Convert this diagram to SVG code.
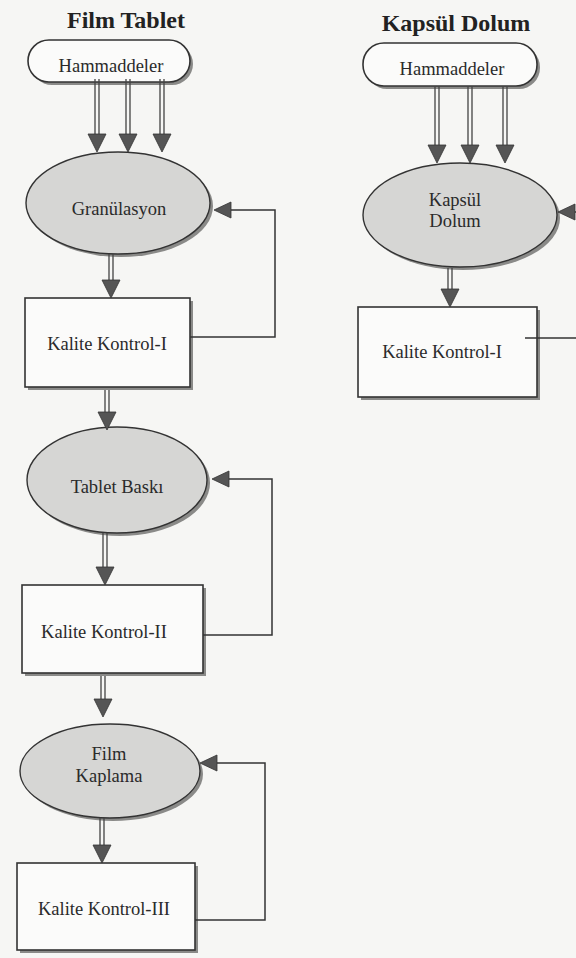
<svg xmlns="http://www.w3.org/2000/svg" xmlns:xlink="http://www.w3.org/1999/xlink" width="576" height="958" viewBox="0 0 576 958">
<style>
.title{font-family:"Liberation Serif",serif;font-weight:bold;font-size:24px;fill:#222;text-anchor:middle}
.lbl{font-family:"Liberation Serif",serif;font-size:18.5px;fill:#2a2a2a;text-anchor:middle}
.pill{fill:#fbfbfa;stroke:#333;stroke-width:1.6}
.box{fill:#fbfbfa;stroke:#333;stroke-width:1.6}
.ell{fill:#d6d6d4;stroke:#333;stroke-width:1.4}
.shadow{fill:#8a8a88}
.shaft{stroke:#444;stroke-width:1.3;fill:none}
.fb{stroke:#333;stroke-width:1.5;fill:none}
.head{fill:#555;stroke:#333;stroke-width:0.8}
</style>
<defs>
<g id="down"><polygon points="-9,-18 9,-18 0,0" class="head"/></g>
<g id="left"><polygon points="0,0 17,-8 17,8" class="head"/></g>
</defs>
<rect width="576" height="958" fill="#f6f6f4"/>
<text class="title" x="126" y="28">Film Tablet</text>
<text class="title" x="456" y="31">Kapsül Dolum</text>

<g id="hammadde-left">
<rect x="31" y="43" width="162" height="42" rx="21" class="shadow"/>
<rect x="28" y="40" width="162" height="42" rx="21" class="pill"/>
<text class="lbl" x="111" y="72">Hammaddeler</text>
</g>
<g id="granulasyon">
<ellipse cx="121" cy="206" rx="92" ry="51" class="shadow"/>
<ellipse cx="118" cy="203" rx="92" ry="51" class="ell"/>
<text class="lbl" x="119" y="215">Granülasyon</text>
</g>
<g id="kk1-left">
<rect x="28" y="301" width="165" height="89" class="shadow"/>
<rect x="25" y="298" width="165" height="89" class="box"/>
<text class="lbl" x="107" y="350">Kalite Kontrol-I</text>
</g>
<g id="tablet-baski">
<ellipse cx="120" cy="483" rx="90" ry="53" class="shadow"/>
<ellipse cx="117" cy="480" rx="90" ry="53" class="ell"/>
<text class="lbl" x="117" y="493">Tablet Baskı</text>
</g>
<g id="kk2">
<rect x="25" y="588" width="181" height="88" class="shadow"/>
<rect x="22" y="585" width="181" height="88" class="box"/>
<text class="lbl" x="104" y="638">Kalite Kontrol-II</text>
</g>
<g id="film-kaplama">
<ellipse cx="113" cy="774" rx="90" ry="47" class="shadow"/>
<ellipse cx="110" cy="771" rx="90" ry="47" class="ell"/>
<text class="lbl" x="109" y="760">Film</text>
<text class="lbl" x="109" y="782">Kaplama</text>
</g>
<g id="kk3">
<rect x="20" y="866" width="178" height="87" class="shadow"/>
<rect x="17" y="863" width="178" height="87" class="box"/>
<text class="lbl" x="104" y="915">Kalite Kontrol-III</text>
</g>

<g id="hammadde-right">
<rect x="366" y="46" width="174" height="43" rx="21" class="shadow"/>
<rect x="363" y="43" width="174" height="43" rx="21" class="pill"/>
<text class="lbl" x="452" y="75">Hammaddeler</text>
</g>
<g id="kapsul-dolum">
<ellipse cx="463" cy="218" rx="97" ry="52" class="shadow"/>
<ellipse cx="460" cy="215" rx="97" ry="52" class="ell"/>
<text class="lbl" x="455" y="206">Kapsül</text>
<text class="lbl" x="455" y="227">Dolum</text>
</g>
<g id="kk1-right">
<rect x="361" y="310" width="179" height="90" class="shadow"/>
<rect x="358" y="307" width="179" height="90" class="box"/>
<text class="lbl" x="442" y="358">Kalite Kontrol-I</text>
</g>

<g id="connectors">
<path class="shaft" d="M95,79V134M99,79V134M126,79V134M130,79V134M160,79V134M164,79V134"/>
<use href="#down" x="97" y="152"/><use href="#down" x="128" y="152"/><use href="#down" x="162" y="152"/>
<path class="shaft" d="M109,254V281M113,254V281"/>
<use href="#down" x="111" y="298"/>
<path class="shaft" d="M105,390V413M109,390V413"/>
<use href="#down" x="107" y="430"/>
<path class="shaft" d="M103,533V567M107,533V567"/>
<use href="#down" x="105" y="585"/>
<path class="shaft" d="M101,676V699M105,676V699"/>
<use href="#down" x="103" y="717"/>
<path class="shaft" d="M100,818V845M104,818V845"/>
<use href="#down" x="102" y="863"/>
<polyline class="fb" points="190,337 275,337 275,210 230,210"/>
<use href="#left" x="214" y="210"/>
<polyline class="fb" points="203,635 272,635 272,479 228,479"/>
<use href="#left" x="212" y="479"/>
<polyline class="fb" points="195,920 265,920 265,763 216,763"/>
<use href="#left" x="200" y="763"/>
<path class="shaft" d="M435,86V145M439,86V145M468,86V145M472,86V145M503,86V145M507,86V145"/>
<use href="#down" x="437" y="163"/><use href="#down" x="470" y="163"/><use href="#down" x="505" y="163"/>
<path class="shaft" d="M448,268V289M452,268V289"/>
<use href="#down" x="450" y="307"/>
<polyline class="fb" points="525,338 576,338"/>
<polyline class="fb" points="576,212 574,212"/>
<use href="#left" x="558" y="212"/>
</g>
</svg>
